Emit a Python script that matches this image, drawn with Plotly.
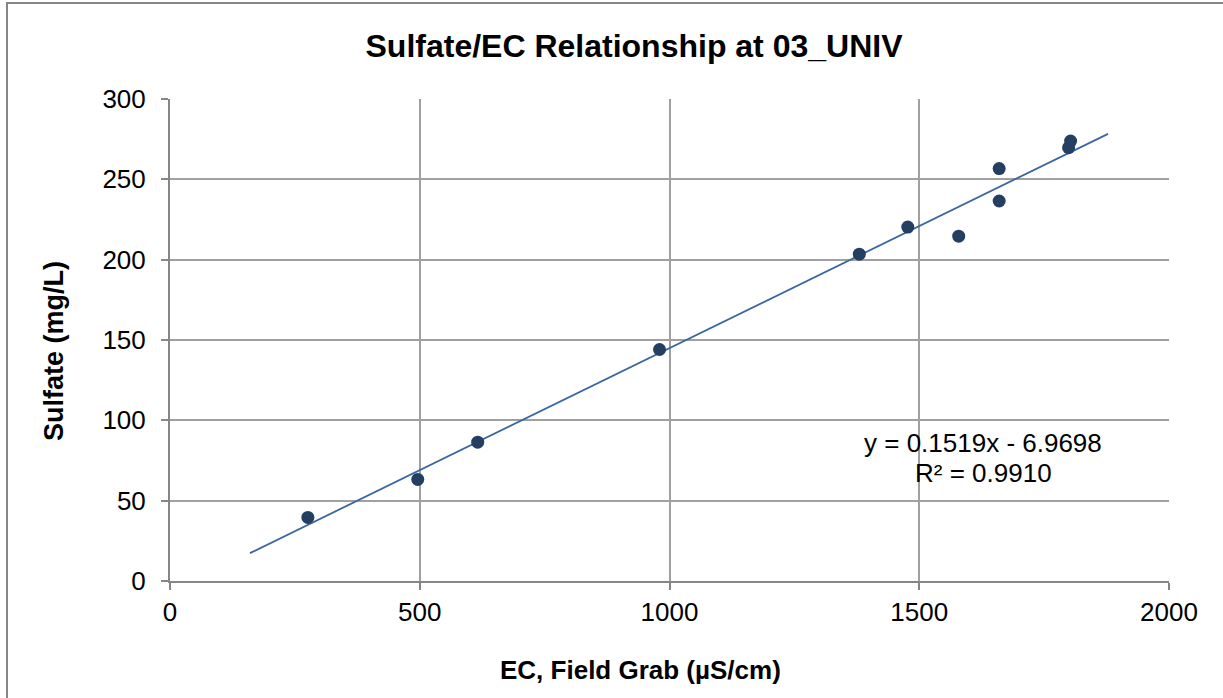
import plotly.graph_objects as go

# Data
ec_field_grab = [276, 496, 616, 980, 1380, 1477, 1579, 1660, 1660, 1799, 1803]
sulfate = [39.6, 63.2, 86.4, 144.1, 203.4, 220.3, 214.6, 256.7, 236.5, 269.7, 273.8]

trend_slope = 0.1519
trend_intercept = -6.9698
trend_r2 = 0.9910
trend_x_range = [160, 1878]

x_ticks = [0, 500, 1000, 1500, 2000]
y_ticks = [0, 50, 100, 150, 200, 250, 300]

FONT = "Liberation Sans, Arial, sans-serif"
GRID = "#a0a0a0"
AXIS = "#868686"

trend_y = [trend_slope * x + trend_intercept for x in trend_x_range]

fig = go.Figure()
fig.add_trace(go.Scatter(
    x=trend_x_range, y=trend_y, mode="lines",
    line=dict(color="#3a67a2", width=1.8),
    hoverinfo="skip", showlegend=False,
))
fig.add_trace(go.Scatter(
    x=ec_field_grab, y=sulfate, mode="markers",
    marker=dict(color="#243f62", size=13, line=dict(width=0)),
    showlegend=False,
))

fig.update_layout(
    width=1223, height=698,
    margin=dict(l=170, r=54, t=99, b=117),
    paper_bgcolor="white", plot_bgcolor="white",
    font=dict(family=FONT, color="black", size=26),
    title=dict(
        text="<b>Sulfate/EC Relationship at 03_UNIV</b>",
        x=634 / 1223, xanchor="center",
        y=1 - 46 / 698, yanchor="middle",
        font=dict(family=FONT, size=32, color="black"),
    ),
    xaxis=dict(
        range=[0, 2000], tickvals=x_ticks, ticktext=[str(v) for v in x_ticks],
        showgrid=True, gridcolor=GRID, gridwidth=1.8,
        showline=True, linecolor=AXIS, linewidth=2,
        ticks="outside", ticklen=7, tickwidth=2, tickcolor=AXIS,
        ticklabelstandoff=0,
        zeroline=False, tickfont=dict(size=26),
    ),
    yaxis=dict(
        range=[0, 300], tickvals=y_ticks, ticktext=[str(v) for v in y_ticks],
        showgrid=True, gridcolor=GRID, gridwidth=1.8,
        showline=True, linecolor=AXIS, linewidth=2,
        ticks="outside", ticklen=7, tickwidth=2, tickcolor=AXIS,
        ticklabelstandoff=10,
        zeroline=False, tickfont=dict(size=26),
    ),
    annotations=[
        dict(text="<b>EC, Field Grab (µS/cm)</b>", xref="paper", yref="paper",
             x=(640.5 - 170) / 999, y=(581 - 670) / 482, xanchor="center", yanchor="middle",
             showarrow=False, font=dict(size=26)),
        dict(text="<b>Sulfate (mg/L)</b>", xref="paper", yref="paper",
             x=(54 - 170) / 999, y=(581 - 351) / 482, xanchor="center", yanchor="middle",
             textangle=-90, showarrow=False, font=dict(size=27)),
        dict(text=f"y = {trend_slope:.4f}x - {abs(trend_intercept):.4f}", xref="paper", yref="paper",
             x=(983 - 170) / 999, y=(581 - 442.6) / 482, xanchor="center", yanchor="middle",
             showarrow=False, font=dict(size=26)),
        dict(text=f"R² = {trend_r2:.4f}", xref="paper", yref="paper",
             x=(983 - 170) / 999, y=(581 - 473) / 482, xanchor="center", yanchor="middle",
             showarrow=False, font=dict(size=26)),
    ],
    shapes=[
        dict(type="rect", xref="paper", yref="paper",
             x0=(7 - 170) / 999, x1=(1235 - 170) / 999,
             y0=(581 - 710) / 482, y1=(581 - 3) / 482,
             line=dict(color=AXIS, width=2), fillcolor="rgba(0,0,0,0)", layer="below"),
    ],
)

fig.write_html("out.html")
